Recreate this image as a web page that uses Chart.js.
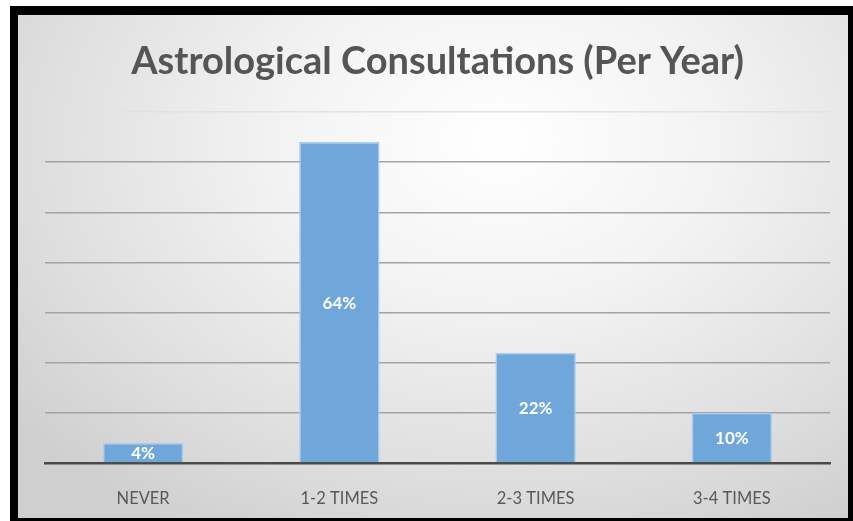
<!DOCTYPE html>
<html>
<head>
<meta charset="utf-8">
<script src="https://cdn.jsdelivr.net/npm/chart.js@4/dist/chart.umd.min.js"></script>
<style>
  html, body { margin: 0; padding: 0; background: #ffffff; width: 853px; height: 521px; overflow: hidden; }
  #frame {
    position: absolute; left: 10px; top: 6px;
    width: 830px; height: 503px;
    border-left: 8px solid #000; border-top: 9px solid #000;
    border-right: 5px solid #000; border-bottom: 3px solid #000;
    background: radial-gradient(ellipse 75% 90% at 58% 25%, #ffffff 0%, #f3f3f3 35%, #dedede 75%, #cfcfcf 100%);
  }
  #c { display: block; }
</style>
</head>
<body>
<div id="frame"><canvas id="c" width="830" height="503"></canvas></div>
<script>
const titleText = 'Astrological Consultations (Per Year)';
const categories = ['NEVER', '1-2 TIMES', '2-3 TIMES', '3-4 TIMES'];
const percentages = [4, 64, 22, 10];
const yTicks = [0, 10, 20, 30, 40, 50, 60, 70];

const barLabels = {
  id: 'barLabels',
  afterDatasetsDraw(chart) {
    const ctx = chart.ctx;
    const meta = chart.getDatasetMeta(0);
    ctx.save();
    ctx.fillStyle = '#ffffff';
    ctx.font = 'bold 17px Lato';
    ctx.textAlign = 'center';
    ctx.textBaseline = 'middle';
    meta.data.forEach((bar, i) => {
      const p = bar.getProps(['x', 'y', 'base'], true);
      ctx.fillText(percentages[i] + '%', p.x, (p.y + p.base) / 2 + 1);
    });
    ctx.restore();
  }
};

new Chart(document.getElementById('c'), {
  type: 'bar',
  data: {
    labels: categories,
    datasets: [{
      data: percentages,
      backgroundColor: '#6fa7db',
      borderColor: '#a9cdee',
      borderWidth: 1.5,
      barPercentage: 0.41,
      categoryPercentage: 1.0
    }]
  },
  options: {
    responsive: false,
    animation: false,
    devicePixelRatio: 1,
    layout: { padding: { left: 27, right: 18, top: 0, bottom: 0 } },
    plugins: {
      legend: { display: false },
      tooltip: { enabled: false },
      title: {
        display: true,
        text: titleText,
        color: '#555555',
        font: { family: 'Lato', size: 38, weight: 'bold' },
        padding: { top: 24, bottom: 27.4 }
      }
    },
    scales: {
      x: {
        grid: { display: false },
        border: { display: true, color: '#4a4a4a', width: 2.5 },
        ticks: { color: '#595959', font: { family: 'Lato', size: 16.5 }, padding: 18 },
        afterFit(s) { s.height = 55; }
      },
      y: {
        min: 0, max: 70,
        afterBuildTicks(s) { s.ticks = yTicks.map(v => ({ value: v })); },
        ticks: { display: false },
        border: { display: false },
        grid: {
          drawTicks: false,
          lineWidth: 1.5,
          color: c => c.tick.value === 0 ? 'rgba(0,0,0,0)' : (c.tick.value === 70 ? '#e2e2e2' : '#a3a3a3')
        },
        afterFit(s) { s.width = 0; }
      }
    }
  },
  plugins: [barLabels]
});
</script>
</body>
</html>
